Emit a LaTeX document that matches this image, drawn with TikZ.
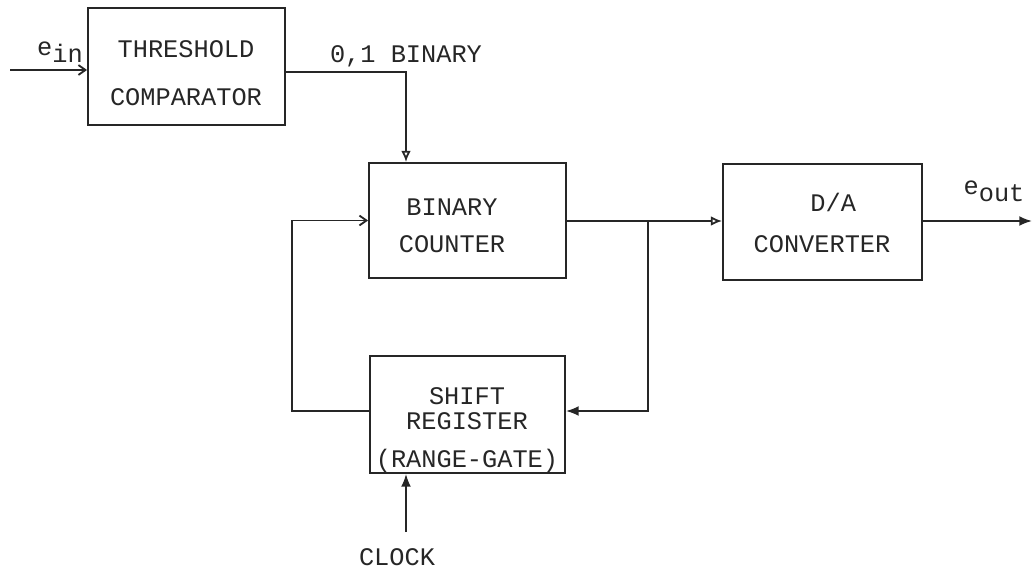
\documentclass[tikz,border=0pt]{standalone}
\usepackage{fontspec}
\setmonofont{Liberation Mono}
\usetikzlibrary{arrows.meta}

\tikzset{
  blk/.style={draw,line width=1.3pt,minimum width=4.925cm,minimum height=2.9cm,inner sep=0pt},
  lbl/.style={align=center,font=\ttfamily\fontsize{18}{21}\selectfont},
  wire/.style={line width=1.3pt},
  opn/.style={wire,-{Latex[open,length=8pt,width=7pt]}},
  fil/.style={wire,-{Latex[length=9pt,width=7pt]}},
  brb/.style={wire,-{Straight Barb[length=5pt,width=7pt]}}
}

\begin{document}
\begin{tikzpicture}[x=0.025cm,y=-0.025cm,black!85,>=Stealth]
\useasboundingbox (0,0) rectangle (1033,581);
% blocks
\node[blk,minimum height=2.925cm] (cmp) at (186.5,66.5) {};
\node[blk,minimum height=2.875cm] (cnt) at (467.5,220.5) {};
\node[blk,minimum width=4.975cm] (dac) at (822.5,222) {};
\node[blk,minimum width=4.875cm,minimum height=2.925cm] (sr) at (467.5,414.5) {};
\node[lbl] (cmptxt) at (186,73) {THRESHOLD\\[13pt]COMPARATOR};
\node[lbl] (cnttxt) at (452,225.5) {BINARY\\[5pt]COUNTER};
\node[lbl] (dactxt) at (822,223) {\hspace*{16pt}D/A\\[8pt]CONVERTER};
\node[lbl] (srtxt) at (467,430) {SHIFT\\[-3pt]REGISTER\\[6pt](RANGE-GATE)};
% signals
\node[lbl] (ein) at (60,52) {e\raisebox{-5pt}{in}};
\node[lbl] (bin) at (406,56) {0,1 BINARY};
\node[lbl] (eout) at (994,191) {\raisebox{5pt}{e}out};
\node[lbl] (clk) at (397,557) {CLOCK};
\coordinate (in) at (10,70);
\coordinate (out) at (1032,221);
\coordinate (drop) at (406,72);
\coordinate (tap) at (648,221);
\coordinate (loop) at (292,411);
\coordinate (clkend) at (406,532);
% connectors
\draw[brb] (in) -- (in -| cmp.west);
\draw[opn] (cmp.east |- drop) -- (drop) -- (drop |- cnt.north);
\draw[opn] (cnt.east |- tap) -- (tap -| dac.west);
\draw[fil] (dac.east |- out) -- (out);
\draw[fil] (tap) -- (tap |- loop) -- (loop -| sr.east);
\draw[brb] (sr.west |- loop) -- (loop) -- (loop |- cnt.west) -- (cnt.west);
\draw[fil] (clkend) -- (clkend |- sr.south);
\end{tikzpicture}
\end{document}
